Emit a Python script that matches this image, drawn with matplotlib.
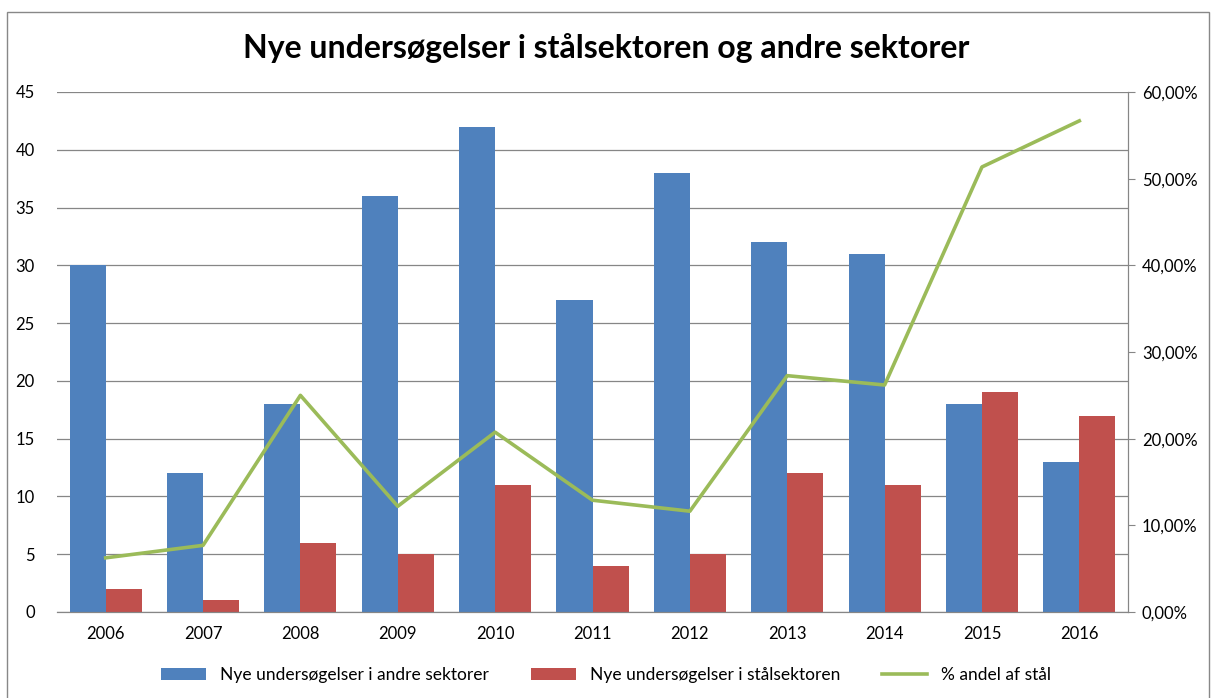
import matplotlib.pyplot as plt
import numpy as np
from matplotlib.patches import Rectangle
from matplotlib.ticker import FuncFormatter

years = ["2006", "2007", "2008", "2009", "2010", "2011", "2012", "2013", "2014", "2015", "2016"]
other_sectors = [30, 12, 18, 36, 42, 27, 38, 32, 31, 18, 13]
steel_sector = [2, 1, 6, 5, 11, 4, 5, 12, 11, 19, 17]
steel_share = [6.25, 7.69, 25.0, 12.20, 20.75, 12.90, 11.63, 27.27, 26.19, 51.35, 56.67]

plt.rcParams["font.family"] = ["Lato", "DejaVu Sans"]

blue = "#4F81BD"
red = "#C0504D"
green = "#9BBB59"
grid_grey = "#868686"

figure = plt.figure(figsize=(12.12, 6.98), dpi=100)
axis = figure.add_axes([57 / 1212, 1 - 612 / 698, (1128 - 57) / 1212, (612 - 92) / 698])
share_axis = axis.twinx()

x = np.arange(len(years))
width = 0.37
axis.bar(x - width / 2, other_sectors, width, color=blue, label="Nye undersøgelser i andre sektorer", zorder=2)
axis.bar(x + width / 2, steel_sector, width, color=red, label="Nye undersøgelser i stålsektoren", zorder=2)
share_axis.plot(x, steel_share, color=green, linewidth=2.6, label="% andel af stål")

axis.set_xlim(-0.5, len(years) - 0.5)
axis.set_ylim(0, 45)
axis.set_yticks(range(0, 46, 5))
axis.set_xticks(x)
axis.set_xticklabels(years)
axis.tick_params(axis="x", length=0, pad=10, labelsize=12)
axis.tick_params(axis="y", length=0, pad=16, labelsize=12)
axis.grid(axis="y", color=grid_grey, linewidth=0.9, zorder=0)
axis.set_axisbelow(True)

share_axis.set_ylim(0, 60)
share_axis.set_yticks(range(0, 61, 10))
share_axis.yaxis.set_major_formatter(FuncFormatter(lambda value, _: f"{value:.2f}%".replace(".", ",")))
share_axis.tick_params(axis="y", length=5, color=grid_grey, labelsize=12, pad=5)

for ax in (axis, share_axis):
    ax.spines["top"].set_visible(False)
    ax.spines["left"].set_visible(False)
    ax.spines["right"].set_color(grid_grey)
    ax.spines["bottom"].set_color(grid_grey)

figure.suptitle("Nye undersøgelser i stålsektoren og andre sektorer",
                fontsize=23, fontweight="bold", y=1 - 48 / 698, va="center")

handles = axis.get_legend_handles_labels()[0] + share_axis.get_legend_handles_labels()[0]
labels = axis.get_legend_handles_labels()[1] + share_axis.get_legend_handles_labels()[1]
figure.legend(handles, labels, loc="center", bbox_to_anchor=(0.5, 1 - 675 / 698),
              ncol=3, frameon=False, fontsize=12.5, handlelength=2.6, columnspacing=2.4)

figure.patches.append(Rectangle((7 / 1212, -0.01), 1202 / 1212, 1 - 12 / 698 + 0.01,
                                transform=figure.transFigure, fill=False,
                                edgecolor="#888888", linewidth=1))

figure.savefig("out.png", dpi=100)
